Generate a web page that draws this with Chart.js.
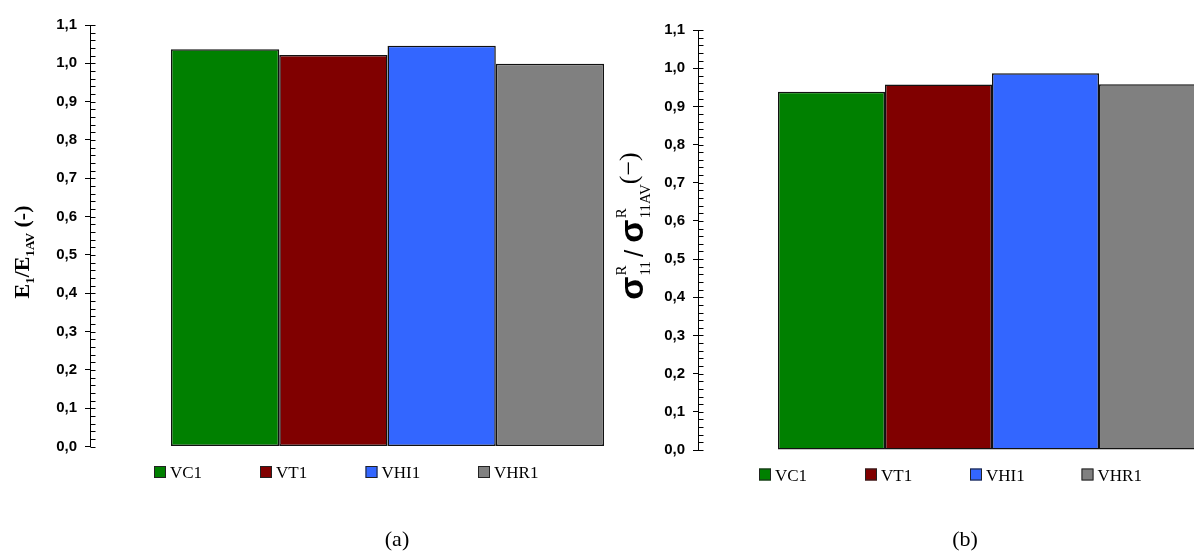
<!DOCTYPE html>
<html>
<head>
<meta charset="utf-8">
<script src="https://cdn.jsdelivr.net/npm/chart.js@4.4.1/dist/chart.umd.min.js"></script>
<style>
  html, body { margin:0; padding:0; background:#fff; width:1194px; height:554px; overflow:hidden; position:relative; }
  .box { position:absolute; top:0; }
  .cap { position:absolute; top:526px; font-family:"Liberation Serif", serif; font-size:22px; color:#000; transform:translateX(-50%); }
</style>
</head>
<body>
<div class="box" style="left:0px;width:690px;height:554px"><canvas id="c1" width="690" height="554"></canvas></div>
<div class="box" style="left:600px;width:700px;height:554px"><canvas id="c2" width="700" height="554"></canvas></div>
<div class="cap" style="left:397px">(a)</div>
<div class="cap" style="left:965px">(b)</div>
<script>
// ---- data ----
const categories = ['VC1', 'VT1', 'VHI1', 'VHR1'];
const modulusRatio = [1.037, 1.022, 1.046, 0.999];   // E1/E1AV  (a)
const stressRatio  = [0.938, 0.957, 0.987, 0.958];   // sigma11R/sigma11AVR  (b)
const yMin = 0, yMax = 1.1, yStep = 0.1;
const seriesColors = ['#008000', '#800000', '#3366FF', '#808080'];

function fmtTick(v) { return v.toFixed(1).replace('.', ','); }

const axisExtras = {
  id: 'axisExtras',
  afterDraw(chart) {
    const y = chart.scales.y, ctx = chart.ctx;
    const x0 = Math.round(y.right) + 0.5;
    ctx.save();
    ctx.strokeStyle = '#000'; ctx.lineWidth = 1;
    const n = Math.round((yMax - yMin) / (yStep / 5));
    for (let i = 0; i <= n; i++) {
      const py = Math.round(y.getPixelForValue(yMin + i * yStep / 5)) + 0.5;
      ctx.beginPath(); ctx.moveTo(x0, py); ctx.lineTo(x0 + 5, py); ctx.stroke();
    }
    ctx.restore();
  }
};

const richTitle = {
  id: 'richTitle',
  afterDraw(chart, args, o) {
    const ctx = chart.ctx;
    ctx.save();
    ctx.translate(o.cx, o.cy); ctx.rotate(-Math.PI / 2);
    ctx.fillStyle = '#000'; ctx.textBaseline = 'alphabetic'; ctx.textAlign = 'left';
    let total = 0;
    o.segs.forEach(s => {
      const parts = s.stack || [s];
      s.w = Math.max(...parts.map(p => { ctx.font = p.font; return ctx.measureText(p.text).width; }));
      total += s.w + (s.gap || 0);
    });
    let x = -total / 2;
    o.segs.forEach(s => {
      const parts = s.stack || [s];
      parts.forEach(p => { ctx.font = p.font; ctx.fillText(p.text, x, p.dy || 0); });
      x += s.w + (s.gap || 0);
    });
    ctx.restore();
  }
};

const customLegend = {
  id: 'customLegend',
  afterDraw(chart, args, o) {
    const ctx = chart.ctx;
    ctx.save();
    chart.data.datasets.forEach((ds, i) => {
      const x = o.xs[i];
      ctx.fillStyle = ds.backgroundColor;
      ctx.fillRect(x, o.top, 12, 12);
      ctx.strokeStyle = '#222'; ctx.lineWidth = 1;
      ctx.strokeRect(x + 0.5, o.top + 0.5, 11, 11);
      ctx.fillStyle = '#000';
      ctx.font = '17px "Liberation Serif"';
      ctx.textBaseline = 'alphabetic';
      ctx.fillText(ds.label, x + 16, o.top + 12);
    });
    ctx.restore();
  }
};

function makeChart(id, values, axisWidth, padTop, padBottom, padRight, titleOpts, legendOpts) {
  return new Chart(document.getElementById(id), {
    type: 'bar',
    data: {
      labels: [''],
      datasets: categories.map((c, i) => ({
        label: c,
        data: [values[i]],
        backgroundColor: seriesColors[i],
        borderColor: '#111',
        borderWidth: 1.5,
        borderSkipped: false
      }))
    },
    options: {
      responsive: false,
      animation: false,
      devicePixelRatio: 1,
      layout: { padding: { top: padTop, bottom: padBottom, left: 0, right: padRight } },
      datasets: { bar: { categoryPercentage: 0.728, barPercentage: 1.0 } },
      plugins: {
        legend: { display: false },
        tooltip: { enabled: false },
        richTitle: titleOpts,
        customLegend: legendOpts
      },
      scales: {
        x: { display: false },
        y: {
          min: yMin, max: yMax,
          afterFit(scale) { scale.width = axisWidth; },
          ticks: {
            stepSize: yStep,
            color: '#000',
            padding: 8,
            font: { family: '"Liberation Sans"', size: 15, weight: 'bold' },
            callback: v => fmtTick(v)
          },
          grid: { drawOnChartArea: false, drawTicks: true, tickLength: 5, color: '#000', lineWidth: 1 },
          border: { display: true, color: '#000', width: 1 }
        }
      }
    },
    plugins: [axisExtras, richTitle, customLegend]
  });
}

makeChart('c1', modulusRatio, 90, 25, 554 - 446.5, 5,
  { cx: 29, cy: 252, segs: [
    { text: 'E', font: 'bold 22px "Liberation Serif"' },
    { text: '1', font: 'bold 13px "Liberation Serif"', dy: 5 },
    { text: '/E', font: 'bold 22px "Liberation Serif"' },
    { text: '1AV', font: 'bold 13px "Liberation Serif"', dy: 5 },
    { text: ' (-)', font: 'bold 22px "Liberation Serif"' }
  ]},
  { xs: [154, 260, 365.5, 478], top: 466 }
);

makeChart('c2', stressRatio, 98, 30, 554 - 450, 14,
  { cx: 43, cy: 226, segs: [
    { text: 'σ', font: 'bold 34px "Liberation Sans"', gap: 1 },
    { stack: [
      { text: 'R', font: '15px "Liberation Serif"', dy: -17 },
      { text: '11', font: '15px "Liberation Serif"', dy: 7 }
    ], gap: 4 },
    { text: '/ ', font: '26px "Liberation Sans"' },
    { text: 'σ', font: 'bold 34px "Liberation Sans"', gap: 1 },
    { stack: [
      { text: 'R', font: '15px "Liberation Serif"', dy: -17 },
      { text: '11AV', font: '15px "Liberation Serif"', dy: 7 }
    ] },
    { text: '(−)', font: '26px "Liberation Serif"', dy: -6 }
  ]},
  { xs: [759, 865, 970, 1081.5].map(v => v - 600), top: 468.5 }
);
</script>
</body>
</html>
